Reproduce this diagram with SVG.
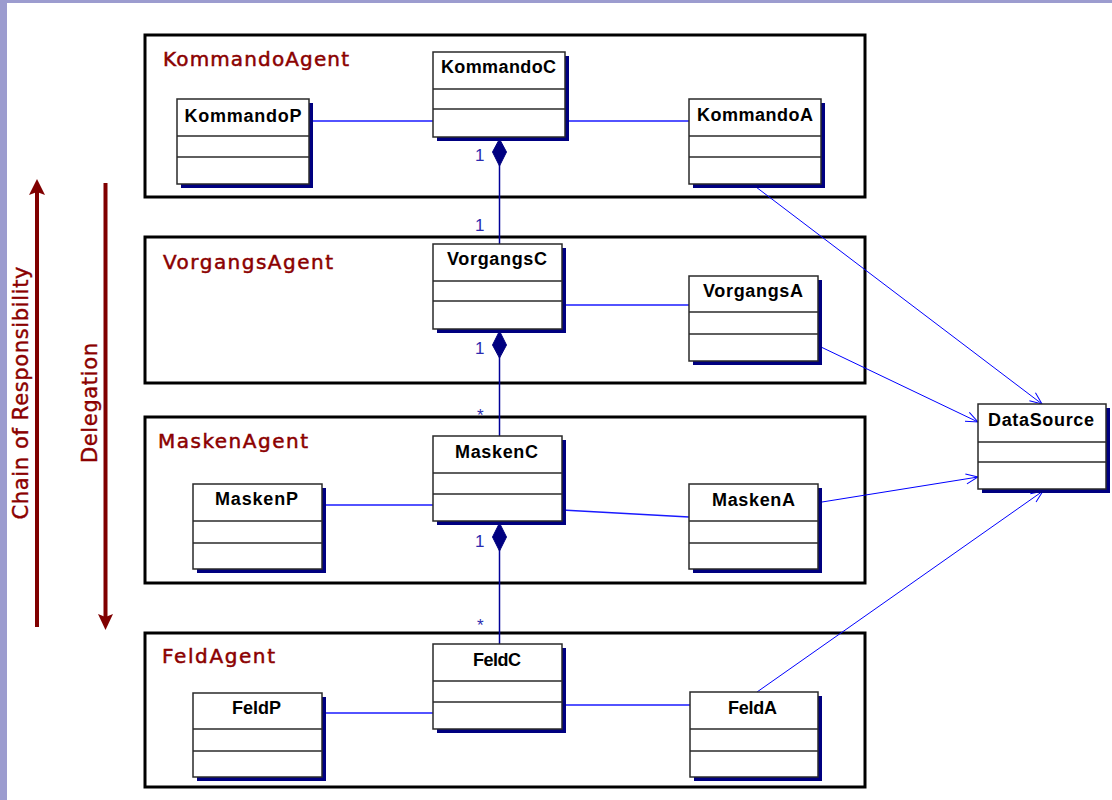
<svg xmlns="http://www.w3.org/2000/svg" width="1112" height="800" viewBox="0 0 1112 800">
  <style>
    .pkg { fill: none; stroke: #000; stroke-width: 3; }
    .pkg-label { font-family: "DejaVu Sans", Verdana, sans-serif; font-size: 20px; fill: #8b0000; stroke: #8b0000; stroke-width: 0.5; }
    .cls { fill: #fff; stroke: #2a2a2a; stroke-width: 1.5; }
    .shadow { fill: #000080; }
    .div { stroke: #2a2a2a; stroke-width: 1.5; }
    .cls-name { font-family: "Liberation Sans", Arial, sans-serif; font-size: 18px; font-weight: bold; fill: #000; text-anchor: middle; }
    .assoc { stroke: #1a1aff; stroke-width: 1.5; fill: none; }
    .comp { stroke: #000099; stroke-width: 1.5; fill: none; }
    .diamond { fill: #000080; stroke: #000080; stroke-width: 1; }
    .dep { stroke: #0000ff; stroke-width: 1; fill: none; }
    .mult { font-family: "Liberation Sans", Arial, sans-serif; font-size: 17px; fill: #2b2bb0; }
    .side { font-family: "DejaVu Sans", Verdana, sans-serif; font-size: 21px; fill: #8b0000; stroke: #8b0000; stroke-width: 0.4; text-anchor: middle; }
  </style>
  <defs>
    <marker id="open-arrow" viewBox="-14 -7 16 14" markerUnits="userSpaceOnUse" markerWidth="16" markerHeight="14" refX="0" refY="0" orient="auto">
      <path d="M-12,-5 L0,0 L-12,5" fill="none" stroke="#0000ff" stroke-width="1"/>
    </marker>
  </defs>

  <!-- page background and frame strips -->
  <rect x="0" y="0" width="1112" height="800" fill="#fff"/>
  <rect x="0" y="0" width="7" height="800" fill="#9c9ccf"/>
  <rect x="0" y="0" width="1112" height="3" fill="#9c9ccf"/>

  <!-- side arrows -->
  <g id="chain-of-responsibility">
    <line x1="37" y1="192" x2="37" y2="627" stroke="#800000" stroke-width="4"/>
    <polygon points="37,179 45,195 37,192 29,195" fill="#800000"/>
    <text class="side" transform="translate(28,393) rotate(-90)" textLength="253" lengthAdjust="spacing">Chain of Responsibility</text>
  </g>
  <g id="delegation">
    <line x1="105.5" y1="183" x2="105.5" y2="617" stroke="#800000" stroke-width="4"/>
    <polygon points="105.5,630 113,614 105.5,617 98,614" fill="#800000"/>
    <text class="side" transform="translate(97,403) rotate(-90)" textLength="120" lengthAdjust="spacing">Delegation</text>
  </g>

  <!-- packages -->
  <g id="KommandoAgent">
    <rect class="pkg" x="145" y="35" width="720" height="162"/>
    <text class="pkg-label" x="163" y="66" textLength="186" lengthAdjust="spacing">KommandoAgent</text>
  </g>
  <g id="VorgangsAgent">
    <rect class="pkg" x="145" y="237" width="720" height="146"/>
    <text class="pkg-label" x="163" y="269" textLength="170" lengthAdjust="spacing">VorgangsAgent</text>
  </g>
  <g id="MaskenAgent">
    <rect class="pkg" x="145" y="417" width="720" height="166"/>
    <text class="pkg-label" x="158" y="448" textLength="150" lengthAdjust="spacing">MaskenAgent</text>
  </g>
  <g id="FeldAgent">
    <rect class="pkg" x="145" y="633" width="720" height="154"/>
    <text class="pkg-label" x="162" y="663" textLength="113" lengthAdjust="spacing">FeldAgent</text>
  </g>

  <!-- connectors -->
  <g id="connectors">
    <!-- associations inside the agents -->
    <line class="assoc" x1="309" y1="121" x2="433" y2="121"/>
    <line class="assoc" x1="565" y1="121" x2="689" y2="121"/>
    <line class="assoc" x1="562" y1="305" x2="689" y2="305"/>
    <line class="assoc" x1="322" y1="505" x2="433" y2="505"/>
    <line class="assoc" x1="562" y1="510" x2="689" y2="517"/>
    <line class="assoc" x1="322" y1="713" x2="433" y2="713"/>
    <line class="assoc" x1="562" y1="705" x2="690" y2="705"/>

    <!-- compositions between controllers -->
    <line class="comp" x1="499.5" y1="165" x2="499.5" y2="244"/>
    <polygon class="diamond" points="499.5,139 506.5,152 499.5,166 492.5,152"/>
    <text class="mult" x="475" y="161">1</text>
    <text class="mult" x="475" y="231">1</text>

    <line class="comp" x1="499.5" y1="357" x2="499.5" y2="436"/>
    <polygon class="diamond" points="499.5,331 506.5,345 499.5,358 492.5,345"/>
    <text class="mult" x="475" y="354">1</text>
    <text class="mult" x="477" y="421">*</text>

    <line class="comp" x1="499.5" y1="549" x2="499.5" y2="644"/>
    <polygon class="diamond" points="499.5,523 506.5,537 499.5,551 492.5,537"/>
    <text class="mult" x="475" y="547">1</text>
    <text class="mult" x="477" y="631">*</text>

    <!-- dependencies on DataSource -->
    <line class="dep" x1="756" y1="187" x2="1042" y2="404" marker-end="url(#open-arrow)"/>
    <line class="dep" x1="821" y1="347" x2="978" y2="422" marker-end="url(#open-arrow)"/>
    <line class="dep" x1="822" y1="502" x2="978" y2="477" marker-end="url(#open-arrow)"/>
    <line class="dep" x1="757" y1="692" x2="1043" y2="491" marker-end="url(#open-arrow)"/>
  </g>

  <!-- classes -->
  <g id="KommandoP">
    <rect class="shadow" x="181" y="103" width="132" height="85"/>
    <rect class="cls" x="177" y="99" width="132" height="85"/>
    <line class="div" x1="177" y1="136" x2="309" y2="136"/>
    <line class="div" x1="177" y1="157" x2="309" y2="157"/>
    <text class="cls-name" x="243" y="122" textLength="117" lengthAdjust="spacing">KommandoP</text>
  </g>
  <g id="KommandoC">
    <rect class="shadow" x="437" y="56" width="132" height="85"/>
    <rect class="cls" x="433" y="52" width="132" height="85"/>
    <line class="div" x1="433" y1="89" x2="565" y2="89"/>
    <line class="div" x1="433" y1="109" x2="565" y2="109"/>
    <text class="cls-name" x="498.5" y="73" textLength="115" lengthAdjust="spacing">KommandoC</text>
  </g>
  <g id="KommandoA">
    <rect class="shadow" x="693" y="103" width="132" height="85"/>
    <rect class="cls" x="689" y="99" width="132" height="85"/>
    <line class="div" x1="689" y1="136" x2="821" y2="136"/>
    <line class="div" x1="689" y1="157" x2="821" y2="157"/>
    <text class="cls-name" x="755" y="121" textLength="116" lengthAdjust="spacing">KommandoA</text>
  </g>
  <g id="VorgangsC">
    <rect class="shadow" x="437" y="248" width="129" height="85"/>
    <rect class="cls" x="433" y="244" width="129" height="85"/>
    <line class="div" x1="433" y1="281" x2="562" y2="281"/>
    <line class="div" x1="433" y1="301" x2="562" y2="301"/>
    <text class="cls-name" x="497" y="265" textLength="100" lengthAdjust="spacing">VorgangsC</text>
  </g>
  <g id="VorgangsA">
    <rect class="shadow" x="693" y="280" width="129" height="85"/>
    <rect class="cls" x="689" y="276" width="129" height="85"/>
    <line class="div" x1="689" y1="312" x2="818" y2="312"/>
    <line class="div" x1="689" y1="334" x2="818" y2="334"/>
    <text class="cls-name" x="753" y="297" textLength="100" lengthAdjust="spacing">VorgangsA</text>
  </g>
  <g id="DataSource">
    <rect class="shadow" x="982" y="408" width="128" height="85"/>
    <rect class="cls" x="978" y="404" width="128" height="85"/>
    <line class="div" x1="978" y1="442" x2="1106" y2="442"/>
    <line class="div" x1="978" y1="462" x2="1106" y2="462"/>
    <text class="cls-name" x="1041" y="426" textLength="106" lengthAdjust="spacing">DataSource</text>
  </g>
  <g id="MaskenP">
    <rect class="shadow" x="197" y="488" width="129" height="85"/>
    <rect class="cls" x="193" y="484" width="129" height="85"/>
    <line class="div" x1="193" y1="521" x2="322" y2="521"/>
    <line class="div" x1="193" y1="543" x2="322" y2="543"/>
    <text class="cls-name" x="256.5" y="505" textLength="83" lengthAdjust="spacing">MaskenP</text>
  </g>
  <g id="MaskenC">
    <rect class="shadow" x="437" y="440" width="129" height="85"/>
    <rect class="cls" x="433" y="436" width="129" height="85"/>
    <line class="div" x1="433" y1="473" x2="562" y2="473"/>
    <line class="div" x1="433" y1="494" x2="562" y2="494"/>
    <text class="cls-name" x="496.5" y="458" textLength="83" lengthAdjust="spacing">MaskenC</text>
  </g>
  <g id="MaskenA">
    <rect class="shadow" x="693" y="488" width="129" height="85"/>
    <rect class="cls" x="689" y="484" width="129" height="85"/>
    <line class="div" x1="689" y1="521" x2="818" y2="521"/>
    <line class="div" x1="689" y1="543" x2="818" y2="543"/>
    <text class="cls-name" x="753.5" y="506" textLength="83" lengthAdjust="spacing">MaskenA</text>
  </g>
  <g id="FeldP">
    <rect class="shadow" x="197" y="697" width="129" height="84"/>
    <rect class="cls" x="193" y="693" width="129" height="84"/>
    <line class="div" x1="193" y1="729" x2="322" y2="729"/>
    <line class="div" x1="193" y1="751" x2="322" y2="751"/>
    <text class="cls-name" x="256.5" y="714" textLength="49" lengthAdjust="spacing">FeldP</text>
  </g>
  <g id="FeldC">
    <rect class="shadow" x="437" y="648" width="129" height="85"/>
    <rect class="cls" x="433" y="644" width="129" height="85"/>
    <line class="div" x1="433" y1="681" x2="562" y2="681"/>
    <line class="div" x1="433" y1="702" x2="562" y2="702"/>
    <text class="cls-name" x="497" y="666" textLength="48" lengthAdjust="spacing">FeldC</text>
  </g>
  <g id="FeldA">
    <rect class="shadow" x="694" y="696" width="128" height="85"/>
    <rect class="cls" x="690" y="692" width="128" height="85"/>
    <line class="div" x1="690" y1="729" x2="818" y2="729"/>
    <line class="div" x1="690" y1="751" x2="818" y2="751"/>
    <text class="cls-name" x="752.5" y="714" textLength="49" lengthAdjust="spacing">FeldA</text>
  </g>
</svg>
